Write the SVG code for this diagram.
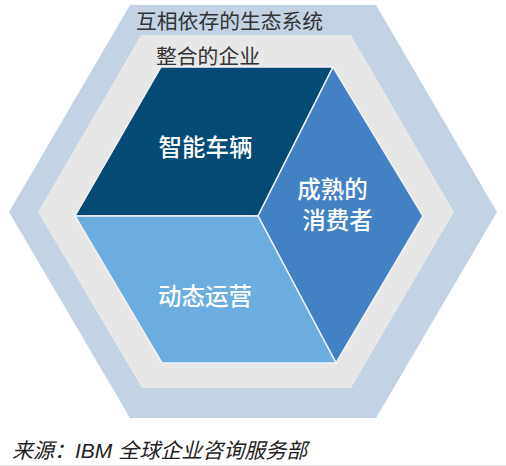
<svg xmlns="http://www.w3.org/2000/svg" width="506" height="466" viewBox="0 0 506 466">
  <style>
    .label { font-family: "Noto Sans CJK SC", "Liberation Sans", sans-serif; }
    .ring { font-size: 20.8px; fill: #333333; }
    .face { font-size: 23.5px; fill: #ffffff; font-weight: 500; }
    .note { font-family: "Liberation Sans", "Noto Sans CJK SC", sans-serif; font-size: 21px; font-style: italic; fill: #222222; }
    .edge { stroke: #f2f2f2; stroke-width: 1.5; stroke-linejoin: round; }
  </style>
  <rect width="506" height="466" fill="#ffffff"/>

  <!-- ecosystem ring -->
  <g id="ecosystem">
    <polygon points="130,5 376,5 497,212 376,418 130,418 9,212" fill="#c3d3e4"/>
    <text class="label ring" x="136" y="29">互相依存的生态系统</text>
  </g>

  <!-- enterprise ring -->
  <g id="enterprise">
    <polygon points="141,35 351,35 454,212 351,388 142,388 38,212" fill="#e7e7e7"/>
    <text class="label ring" x="156" y="64">整合的企业</text>
  </g>

  <!-- cube faces -->
  <g id="smart-vehicles">
    <polygon class="edge" points="161,67 333,67 258,216 75,216" fill="#034a74"/>
    <text class="label face" x="205.5" y="156" text-anchor="middle">智能车辆</text>
  </g>

  <g id="mature-consumers">
    <polygon class="edge" points="333,67 423,216 336,363 258,216" fill="#4381c5"/>
    <text class="label face" x="332.5" y="198" text-anchor="middle">成熟的</text>
    <text class="label face" x="337.5" y="229" text-anchor="middle">消费者</text>
  </g>

  <g id="dynamic-operations">
    <polygon class="edge" points="75,216 258,216 336,363 162,363" fill="#6badde"/>
    <text class="label face" x="205" y="305" text-anchor="middle">动态运营</text>
  </g>

  <g id="connectors"></g>

  <text class="note" x="12" y="458">来源：IBM 全球企业咨询服务部</text>
  <rect x="0" y="465" width="506" height="1" fill="#e6e6e6"/>
</svg>
